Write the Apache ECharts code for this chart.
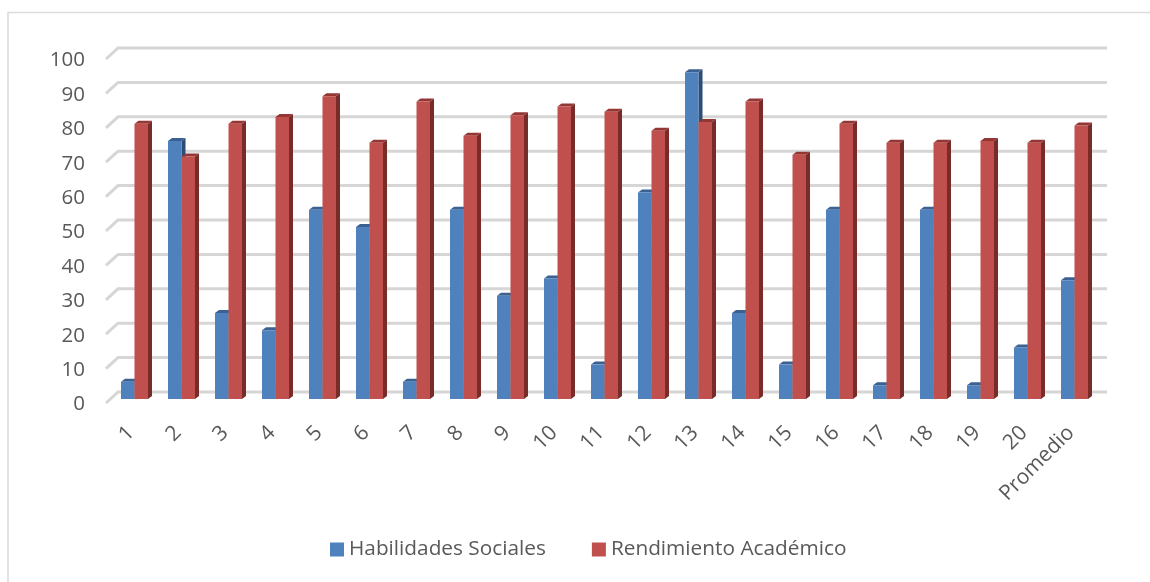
<!DOCTYPE html>
<html>
<head>
<meta charset="utf-8">
<style>
  html, body { margin: 0; padding: 0; background: #fff; }
  #chart { width: 1150px; height: 582px; }
</style>
<script src="https://cdn.jsdelivr.net/npm/echarts@6/dist/echarts.min.js"></script>
</head>
<body>
<div id="chart"></div>
<script>
const categories = ['1', '2', '3', '4', '5', '6', '7', '8', '9', '10', '11', '12', '13', '14', '15', '16', '17', '18', '19', '20', 'Promedio'];
const habilidades = [5, 75, 25, 20, 55, 50, 5, 55, 30, 35, 10, 60, 95, 25, 10, 55, 4, 55, 4, 15, 34.5];
const rendimiento = [80, 70.5, 80, 82, 88, 74.5, 86.5, 76.5, 82.5, 85, 83.5, 78, 80.5, 86.5, 71, 80, 74.5, 74.5, 75, 74.5, 79.5];
const yTicks = [0, 10, 20, 30, 40, 50, 60, 70, 80, 90, 100];

const FONT = '"Open Sans", sans-serif';
const TEXT = '#595959';
const GRID_LINE = '#d6d6d6';
const BLUE = ['#4f81bd', '#2c4d75', '#3a6191'];
const RED = ['#c0504d', '#772c2a', '#943634'];
const BAR_W = 13.5;
const DEPTH_X = 4;
const DEPTH_Y = 3;

// 3D look: front face plus top and side parallelograms, all from the axis scale
function bar3d(colors, side) {
  return (params, api) => {
    const base = api.coord([api.value(0), 0]);
    const top = api.coord([api.value(0), api.value(1)]);
    const x0 = side < 0 ? base[0] - BAR_W : base[0];
    const x1 = x0 + BAR_W;
    const face = { x: x0, y: top[1], width: BAR_W, height: base[1] - top[1] };
    return {
      type: 'group',
      children: [
        {
          type: 'polygon',
          shape: { points: [[x1, base[1]], [x1, top[1]], [x1 + DEPTH_X, top[1] - DEPTH_Y], [x1 + DEPTH_X, base[1] - DEPTH_Y]] },
          style: { fill: colors[1] }
        },
        {
          type: 'polygon',
          shape: { points: [[x0, top[1]], [x0 + DEPTH_X, top[1] - DEPTH_Y], [x1 + DEPTH_X, top[1] - DEPTH_Y], [x1, top[1]]] },
          style: { fill: colors[2] }
        },
        { type: 'rect', shape: face, style: { fill: colors[0] } }
      ]
    };
  };
}

// back wall line with the short diagonal stub on the left
function wallLine(params, api) {
  const y = api.coord([0, api.value(0)])[1];
  const cs = params.coordSys;
  return {
    type: 'polyline',
    shape: { points: [[cs.x - 5, y + 4], [cs.x + 7, y - 7], [cs.x + cs.width + 9, y - 7]] },
    style: { fill: 'none', stroke: GRID_LINE, lineWidth: 3 }
  };
}

const chart = echarts.init(document.getElementById('chart'));
chart.setOption({
  animation: false,
  backgroundColor: '#ffffff',
  graphic: [{
    type: 'polyline',
    shape: { points: [[8, 582], [8, 12.5], [1150, 12.5]] },
    style: { fill: 'none', stroke: '#dcdcdc', lineWidth: 1.6 }
  }],
  grid: { left: 111, right: 52, top: 55, height: 344 },
  xAxis: {
    type: 'category',
    data: categories,
    axisLine: { show: false },
    axisTick: { show: false },
    axisLabel: { rotate: 45, interval: 0, margin: 27, padding: [0, 5, 0, 0], color: TEXT, fontFamily: FONT, fontSize: 21 }
  },
  yAxis: {
    type: 'value',
    min: 0,
    max: 100,
    interval: 10,
    axisLine: { show: false },
    axisTick: { show: false },
    splitLine: { show: false },
    axisLabel: { margin: 26, color: TEXT, fontFamily: FONT, fontSize: 20.5, verticalAlign: 'top', lineHeight: 11 }
  },
  legend: {
    left: 325,
    top: 534,
    itemWidth: 14,
    itemHeight: 14,
    itemGap: 46,
    icon: 'rect',
    textStyle: { color: TEXT, fontFamily: FONT, fontSize: 20.8 },
    data: ['Habilidades Sociales', 'Rendimiento Académico']
  },
  series: [
    {
      type: 'custom',
      name: 'paredes',
      silent: true,
      data: yTicks.map((t) => [t]),
      encode: { y: 0 },
      renderItem: wallLine,
      z: 1
    },
    {
      type: 'custom',
      name: 'Habilidades Sociales',
      itemStyle: { color: BLUE[0] },
      data: categories.map((c, i) => [i, habilidades[i]]),
      encode: { x: 0, y: 1 },
      renderItem: bar3d(BLUE, -1),
      z: 2
    },
    {
      type: 'custom',
      name: 'Rendimiento Académico',
      itemStyle: { color: RED[0] },
      data: categories.map((c, i) => [i, rendimiento[i]]),
      encode: { x: 0, y: 1 },
      renderItem: bar3d(RED, 1),
      z: 3
    }
  ]
});
</script>
</body>
</html>
